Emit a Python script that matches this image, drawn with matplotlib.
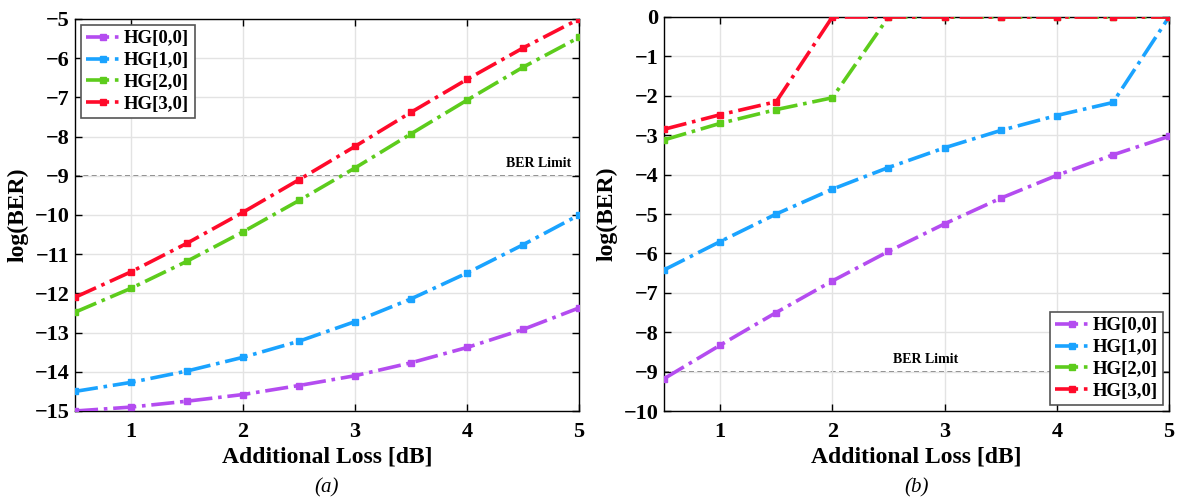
import numpy as np
import matplotlib.pyplot as plt

plt.rcParams['font.family'] = ['Liberation Serif', 'DejaVu Serif']
plt.rcParams['font.weight'] = 'bold'
plt.rcParams['axes.labelweight'] = 'bold'

loss = [0.5, 1.0, 1.5, 2.0, 2.5, 3.0, 3.5, 4.0, 4.5, 5.0]
labels = ["HG[0,0]", "HG[1,0]", "HG[2,0]", "HG[3,0]"]
colors = ["#b44cf0", "#1aa3ff", "#5dcc1c", "#ff0a2a"]

# (a) log(BER) values
ber_a = [
    [-15.0, -14.9, -14.75, -14.58, -14.35, -14.1, -13.77, -13.38, -12.92, -12.37],
    [-14.5, -14.27, -13.98, -13.63, -13.22, -12.72, -12.14, -11.48, -10.76, -10.0],
    [-12.48, -11.87, -11.18, -10.43, -9.63, -8.8, -7.93, -7.07, -6.23, -5.47],
    [-12.1, -11.45, -10.72, -9.93, -9.1, -8.25, -7.38, -6.54, -5.74, -5.0],
]
# (b) log(BER) values
ber_b = [
    [-9.18, -8.33, -7.5, -6.7, -5.95, -5.25, -4.6, -4.02, -3.5, -3.03],
    [-6.42, -5.7, -5.0, -4.37, -3.82, -3.32, -2.88, -2.5, -2.17, 0.0],
    [-3.12, -2.7, -2.35, -2.05, 0.0, 0.0, 0.0, 0.0, 0.0, 0.0],
    [-2.85, -2.48, -2.15, 0.0, 0.0, 0.0, 0.0, 0.0, 0.0, 0.0],
]
ber_limit = -9

fig = plt.figure(figsize=(11.77, 5.01), dpi=100)
ax_a = fig.add_axes([75 / 1177, 1 - 411 / 501, 504 / 1177, 392 / 501])
ax_b = fig.add_axes([664 / 1177, 1 - 411 / 501, 505 / 1177, 394 / 501])


def draw(ax, data, ylim, yticks, limit_x, limit_ha, legend_loc, caption):
    ax.axhline(ber_limit, color="#6a6a6a", ls=(0, (3, 2)), lw=1.2, zorder=1)
    for vals, lab, c in zip(data, labels, colors):
        ax.plot(loss, vals, ls="-.", lw=2.6, color=c, marker="s", ms=5, label=lab, zorder=3)
    ax.text(limit_x, ber_limit + 0.15, "BER Limit", fontsize=10, ha=limit_ha, va="bottom")
    ax.set_xlim(0.5, 5)
    ax.set_ylim(*ylim)
    ax.set_xticks([1, 2, 3, 4, 5])
    ax.set_yticks(yticks)
    ax.set_yticklabels([f"\u2212{-t}" if t < 0 else str(t) for t in yticks])
    ax.grid(True, color="#e3e3e3", lw=1.0)
    ax.tick_params(direction="in", top=True, right=True, labelsize=16, length=5, width=1.0)
    ax.tick_params(axis="x", pad=8)
    ax.tick_params(axis="y", pad=4)
    for s in ax.spines.values():
        s.set_linewidth(1.0)
    ax.set_xlabel("Additional Loss [dB]", fontsize=17, labelpad=3)
    ax.set_ylabel("log(BER)", fontsize=17, labelpad=4)
    leg = ax.legend(loc=legend_loc, prop={"size": 13.5, "weight": "bold"}, fancybox=False,
                    framealpha=1, edgecolor="#555555", handlelength=1.8, handletextpad=0.2,
                    borderpad=0.3, labelspacing=0.25, borderaxespad=0.3)
    leg.get_frame().set_linewidth(1.2)
    ax.text(0.5, -0.196, caption, transform=ax.transAxes, ha="center", va="center",
            fontsize=15, fontstyle="italic", fontweight="normal")


draw(ax_a, ber_a, (-15, -5), list(range(-15, -4)), 4.93, "right", "upper left", "(a)")
draw(ax_b, ber_b, (-10, 0), list(range(-10, 1)), 2.83, "center", "lower right", "(b)")

fig.savefig("out.png", dpi=100)
